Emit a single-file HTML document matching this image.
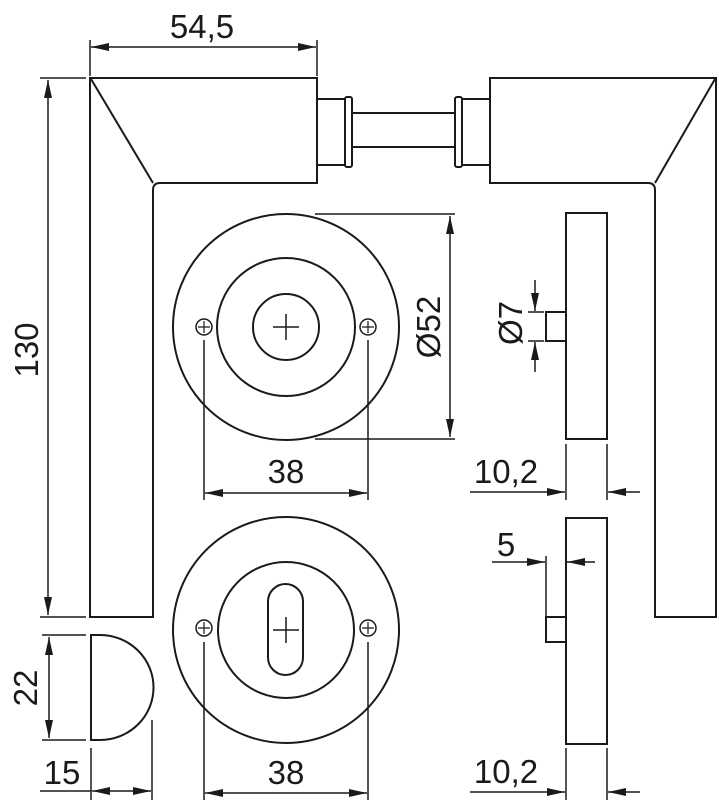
<!DOCTYPE html>
<html><head><meta charset="utf-8"><style>
html,body{margin:0;padding:0;background:#fff;}
svg{display:block;}
text{font-family:"Liberation Sans",sans-serif;fill:#1a1a1a;}
</style></head><body>
<svg width="719" height="800" viewBox="0 0 719 800" xmlns="http://www.w3.org/2000/svg">
<defs>
<marker id="a" viewBox="0 0 18 8" refX="18" refY="4" markerWidth="18" markerHeight="8" markerUnits="userSpaceOnUse" orient="auto-start-reverse">
<path d="M0,0 L18,4 L0,8 z" fill="#1a1a1a"/></marker>
</defs>
<g fill="none" stroke="#1a1a1a" stroke-width="2">
<path d="M90,78 H317 V183 H160 Q153,183 153,190 V617 H90 Z"/>
<path d="M91,79 L153,183"/>
<rect x="317" y="99" width="28" height="66"/>
<rect x="345" y="97" width="7" height="70" rx="2"/>
<rect x="352" y="113" width="103" height="34"/>
<rect x="455" y="97" width="7" height="70" rx="2"/>
<rect x="462" y="99" width="28" height="66"/>
<path d="M490,78 H716 V617 H655 V190 Q655,183 648,183 H490 Z"/>
<path d="M715,79 L655,183"/>
<line x1="90" y1="40" x2="90" y2="76" stroke-width="1.5"/>
<line x1="317" y1="40" x2="317" y2="76" stroke-width="1.5"/>
<line x1="91" y1="47" x2="316" y2="47" marker-start="url(#a)" marker-end="url(#a)" stroke-width="1.5"/>
<line x1="40" y1="78" x2="86" y2="78" stroke-width="1.5"/>
<line x1="40" y1="617" x2="86" y2="617" stroke-width="1.5"/>
<line x1="48" y1="80" x2="48" y2="615" marker-start="url(#a)" marker-end="url(#a)" stroke-width="1.5"/>
<path d="M91,635 V740 H100 A53,52 0 0 0 100,635 Z"/>
<line x1="42" y1="635" x2="86" y2="635" stroke-width="1.5"/>
<line x1="42" y1="740" x2="86" y2="740" stroke-width="1.5"/>
<line x1="49" y1="637" x2="49" y2="738" marker-start="url(#a)" marker-end="url(#a)" stroke-width="1.5"/>
<line x1="91" y1="748" x2="91" y2="800" stroke-width="1.5"/>
<line x1="152" y1="720" x2="152" y2="800" stroke-width="1.5"/>
<line x1="40" y1="791" x2="91" y2="791" stroke-width="1.5"/>
<line x1="92" y1="791" x2="151" y2="791" marker-start="url(#a)" marker-end="url(#a)" stroke-width="1.5"/>
<circle cx="286" cy="327" r="113"/>
<circle cx="286" cy="327" r="69"/>
<circle cx="286" cy="327" r="33"/>
<path d="M273,327 H299 M286,314 V340" stroke-width="1.5"/>
<circle cx="204" cy="327" r="8" stroke-width="1.5"/>
<circle cx="368" cy="327" r="8" stroke-width="1.5"/>
<path d="M198,327 H210 M204,321 V333 M362,327 H374 M368,321 V333" stroke-width="1.2"/>
<line x1="315" y1="214" x2="455" y2="214" stroke-width="1.5"/>
<line x1="315" y1="439" x2="455" y2="439" stroke-width="1.5"/>
<line x1="450" y1="216" x2="450" y2="437" marker-start="url(#a)" marker-end="url(#a)" stroke-width="1.5"/>
<line x1="204" y1="340" x2="204" y2="500" stroke-width="1.5"/>
<line x1="368" y1="340" x2="368" y2="500" stroke-width="1.5"/>
<line x1="205" y1="493" x2="367" y2="493" marker-start="url(#a)" marker-end="url(#a)" stroke-width="1.5"/>
<circle cx="286" cy="630" r="113"/>
<circle cx="286" cy="630" r="68"/>
<rect x="268" y="584" width="35" height="91" rx="17.5"/>
<path d="M273,630 H299 M286,617 V643" stroke-width="1.5"/>
<circle cx="204" cy="628" r="8" stroke-width="1.5"/>
<circle cx="368" cy="628" r="8" stroke-width="1.5"/>
<path d="M198,628 H210 M204,622 V634 M362,628 H374 M368,622 V634" stroke-width="1.2"/>
<line x1="204" y1="642" x2="204" y2="800" stroke-width="1.5"/>
<line x1="368" y1="642" x2="368" y2="800" stroke-width="1.5"/>
<line x1="205" y1="793" x2="367" y2="793" marker-start="url(#a)" marker-end="url(#a)" stroke-width="1.5"/>
<rect x="566" y="213" width="41" height="226"/>
<rect x="546" y="312" width="20" height="29"/>
<line x1="528" y1="312" x2="544" y2="312" stroke-width="1.5"/>
<line x1="528" y1="341" x2="544" y2="341" stroke-width="1.5"/>
<line x1="535" y1="280" x2="535" y2="311" marker-end="url(#a)" stroke-width="1.5"/>
<line x1="535" y1="372" x2="535" y2="342" marker-end="url(#a)" stroke-width="1.5"/>
<line x1="566" y1="444" x2="566" y2="500" stroke-width="1.5"/>
<line x1="607" y1="444" x2="607" y2="500" stroke-width="1.5"/>
<line x1="470" y1="492" x2="565" y2="492" marker-end="url(#a)" stroke-width="1.5"/>
<line x1="640" y1="492" x2="608" y2="492" marker-end="url(#a)" stroke-width="1.5"/>
<rect x="566" y="518" width="41" height="226"/>
<rect x="546" y="617" width="20" height="25"/>
<line x1="546" y1="556" x2="546" y2="617" stroke-width="1.5"/>
<line x1="492" y1="562" x2="545" y2="562" marker-end="url(#a)" stroke-width="1.5"/>
<line x1="595" y1="562" x2="567" y2="562" marker-end="url(#a)" stroke-width="1.5"/>
<line x1="566" y1="748" x2="566" y2="800" stroke-width="1.5"/>
<line x1="607" y1="748" x2="607" y2="800" stroke-width="1.5"/>
<line x1="470" y1="792" x2="565" y2="792" marker-end="url(#a)" stroke-width="1.5"/>
<line x1="640" y1="792" x2="608" y2="792" marker-end="url(#a)" stroke-width="1.5"/>
</g>
<g font-size="33">
<text x="202" y="38" text-anchor="middle">54,5</text>
<text transform="translate(38,350) rotate(-90)" text-anchor="middle">130</text>
<text transform="translate(37,688) rotate(-90)" text-anchor="middle">22</text>
<text x="62" y="784" text-anchor="middle">15</text>
<text x="286" y="483" text-anchor="middle">38</text>
<text x="286" y="784" text-anchor="middle">38</text>
<text transform="translate(440,327) rotate(-90)" text-anchor="middle">Ø52</text>
<text transform="translate(522,323) rotate(-90)" text-anchor="middle">Ø7</text>
<text x="506" y="483" text-anchor="middle">10,2</text>
<text x="506" y="783" text-anchor="middle">10,2</text>
<text x="506" y="556" text-anchor="middle">5</text>
</g>
</svg>
</body></html>
